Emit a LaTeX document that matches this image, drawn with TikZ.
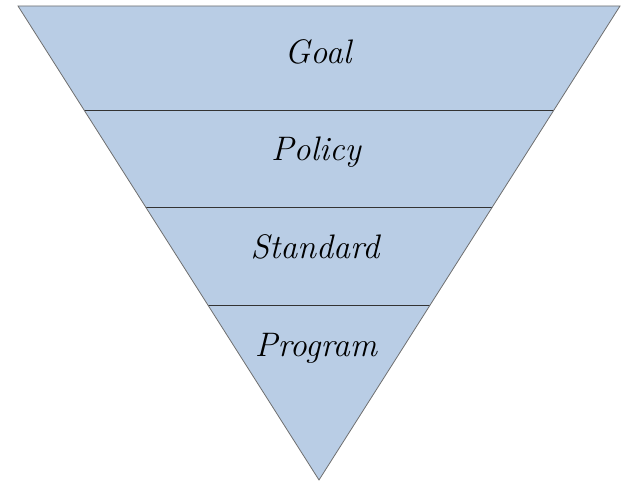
\documentclass[tikz,border=0pt]{standalone}
\usepackage{fontspec}
\definecolor{funnelfill}{HTML}{B9CDE5}
\definecolor{funneledge}{HTML}{6F6F6F}
\tikzset{
  level/.style={font=\itshape\fontsize{34}{38}\selectfont}
}
\begin{document}
\begin{tikzpicture}[x=1pt,y=-1pt]
\useasboundingbox (0,0) rectangle (621,481);
% the funnel
\coordinate (tl) at (18,6);
\coordinate (tr) at (620,6);
\coordinate (tip) at (319,480);
\fill[funnelfill] (tl)--(tr)--(tip)--cycle;
\begin{scope}
 \clip (tl)--(tr)--(tip)--cycle;
 \foreach \y in {111,208,305}
 {
   \draw[line width=1pt,black!80] (0,\y)--(621,\y);
 }
\end{scope}
\draw[funneledge,line width=0.8pt] (tl)--(tr)--(tip)--cycle;

\node[level] (goal) at (318,52) {Goal};
\node[level] (policy) at (316,152) {Policy};
\node[level] (standard) at (315,247) {Standard};
\node[level] (program) at (316,348) {Program};

\end{tikzpicture}
\end{document}
